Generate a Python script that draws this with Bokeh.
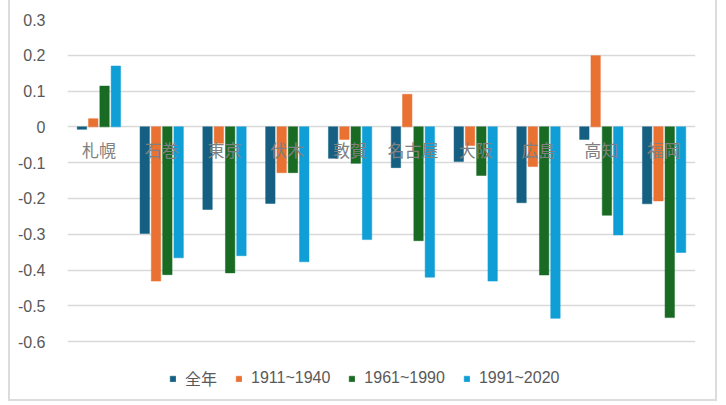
from bokeh.plotting import figure
from bokeh.models import ColumnDataSource, Range1d, FixedTicker, Legend, LegendItem
from bokeh.transform import dodge
from bokeh.core.properties import value
from bokeh.embed import file_html
from bokeh.resources import INLINE

cities = ["札幌", "石巻", "東京", "伏木", "敦賀", "名古屋", "大阪", "広島", "高知", "福岡"]
series_names = ["全年", "1911~1940", "1961~1990", "1991~2020"]
annual = [-0.007, -0.298, -0.231, -0.214, -0.088, -0.114, -0.097, -0.212, -0.035, -0.215]
p1911_1940 = [0.023, -0.431, -0.046, -0.128, -0.035, 0.091, -0.052, -0.111, 0.199, -0.207]
p1961_1990 = [0.114, -0.413, -0.408, -0.128, -0.102, -0.318, -0.136, -0.414, -0.247, -0.533]
p1991_2020 = [0.170, -0.366, -0.360, -0.377, -0.315, -0.420, -0.431, -0.535, -0.302, -0.351]
y_ticks = [0.3, 0.2, 0.1, 0.0, -0.1, -0.2, -0.3, -0.4, -0.5, -0.6]
y_tick_labels = ["0.3", "0.2", "0.1", "0", "-0.1", "-0.2", "-0.3", "-0.4", "-0.5", "-0.6"]

colors = ["#156082", "#E97132", "#196B24", "#0F9ED5"]
cols = ["annual", "p1911", "p1961", "p1991"]
offsets = [-0.27, -0.09, 0.09, 0.27]

source = ColumnDataSource(dict(city=cities, annual=annual, p1911=p1911_1940,
                               p1961=p1961_1990, p1991=p1991_2020,
                               zero=[0.0] * len(cities)))

# frame extends below -0.6 to leave room for the legend inside the frame
p = figure(width=709, height=401, x_range=cities, y_range=Range1d(-0.759, 0.3),
           output_backend="svg", toolbar_location=None,
           min_border_left=59, min_border_right=22, min_border_top=19, min_border_bottom=3)
p.styles = {"margin-left": "8px",
            "box-shadow": "inset 2px 0 0 0 #dcdcdc, inset -2px 0 0 0 #dcdcdc, inset 0 -2px 0 0 #dcdcdc"}
p.outline_line_color = None
p.background_fill_color = None
p.border_fill_color = None

p.xgrid.grid_line_color = None
p.ygrid.grid_line_color = "#d9d9d9"
p.ygrid.grid_line_width = 1.5
p.xaxis.visible = False

p.yaxis.ticker = FixedTicker(ticks=y_ticks)
p.yaxis.major_label_overrides = {t: l for t, l in zip(y_ticks, y_tick_labels)}
p.yaxis.axis_line_color = None
p.yaxis.major_tick_line_color = None
p.yaxis.minor_tick_line_color = None
p.yaxis.major_label_standoff = 16
p.yaxis.major_label_text_font = "Liberation Sans"
p.yaxis.major_label_text_font_size = "16px"
p.yaxis.major_label_text_color = "#595959"

items = []
for name, col, c, off in zip(series_names, cols, colors, offsets):
    r = p.vbar(x=dodge("city", off, range=p.x_range), top=col, bottom=0, width=0.15,
               source=source, fill_color=c, line_color=c, line_width=0.5)
    items.append(LegendItem(label=name, renderers=[r]))

p.text(x="city", y="zero", text="city", source=source, y_offset=23,
       text_align="center", text_baseline="middle",
       text_font=value("Noto Sans CJK JP"), text_font_size="17px",
       text_color="#808080")

legend = Legend(items=items, orientation="horizontal", location=(102, 8),
                glyph_width=7, glyph_height=7, label_standoff=9, spacing=18,
                label_text_font="Liberation Sans, Noto Sans CJK JP",
                label_text_font_size="16px", label_text_color="#595959",
                border_line_color=None, background_fill_alpha=0,
                margin=0, padding=4)
p.add_layout(legend, "center")

open("out.html", "w").write(file_html(p, INLINE))
